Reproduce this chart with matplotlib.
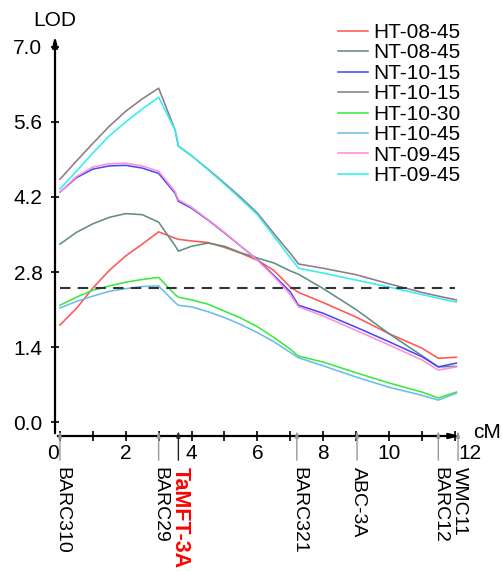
import matplotlib.pyplot as plt
from matplotlib import transforms

plt.rcParams['font.family'] = ['Liberation Sans', 'DejaVu Sans']

# map positions (cM) shared by all traces
cm = [0, 0.5, 1, 1.5, 2, 2.5, 3, 3.5, 3.6, 4, 4.5, 5, 5.5, 6, 6.5, 7, 7.25, 8, 9, 10, 11, 11.5, 12.05]

ht_08_45 = [1.81, 2.12, 2.5, 2.83, 3.1, 3.32, 3.55, 3.43, 3.41, 3.38, 3.35, 3.26, 3.15, 3.02, 2.83, 2.52, 2.42, 2.23, 1.96, 1.65, 1.38, 1.19, 1.21]
nt_08_45 = [3.32, 3.54, 3.7, 3.82, 3.89, 3.87, 3.73, 3.29, 3.19, 3.28, 3.34, 3.28, 3.16, 3.06, 2.97, 2.82, 2.76, 2.49, 2.1, 1.65, 1.24, 1.03, 1.04]
nt_10_15 = [4.29, 4.56, 4.72, 4.78, 4.79, 4.74, 4.64, 4.27, 4.12, 3.99, 3.77, 3.53, 3.28, 3.03, 2.74, 2.43, 2.18, 2.03, 1.77, 1.5, 1.22, 1.03, 1.1]
ht_10_15 = [4.53, 4.87, 5.2, 5.52, 5.8, 6.03, 6.23, 5.45, 5.15, 4.97, 4.72, 4.46, 4.19, 3.9, 3.52, 3.15, 2.95, 2.87, 2.75, 2.58, 2.42, 2.35, 2.28]
ht_10_30 = [2.18, 2.33, 2.46, 2.54, 2.61, 2.66, 2.7, 2.38, 2.33, 2.28, 2.2, 2.07, 1.94, 1.78, 1.58, 1.36, 1.23, 1.12, 0.92, 0.73, 0.56, 0.45, 0.56]
ht_10_45 = [2.13, 2.25, 2.35, 2.44, 2.49, 2.53, 2.54, 2.23, 2.18, 2.15, 2.06, 1.95, 1.82, 1.67, 1.5, 1.3, 1.2, 1.05, 0.84, 0.65, 0.5, 0.41, 0.54]
nt_09_45 = [4.29, 4.58, 4.76, 4.82, 4.83, 4.78, 4.68, 4.3, 4.15, 4.01, 3.78, 3.54, 3.28, 3.02, 2.72, 2.38, 2.15, 1.98, 1.71, 1.44, 1.16, 0.97, 1.03]
ht_09_45 = [4.35, 4.68, 5.02, 5.34, 5.6, 5.84, 6.06, 5.45, 5.15, 4.97, 4.71, 4.44, 4.16, 3.87, 3.47, 3.07, 2.87, 2.78, 2.65, 2.52, 2.38, 2.31, 2.24]

labels = ['HT-08-45', 'NT-08-45', 'NT-10-15', 'HT-10-15', 'HT-10-30', 'HT-10-45', 'NT-09-45', 'HT-09-45']
values = [ht_08_45, nt_08_45, nt_10_15, ht_10_15, ht_10_30, ht_10_45, nt_09_45, ht_09_45]
colors = ['#ff5555', '#5f8f80', '#4848ff', '#8c7a8c', '#3aea3a', '#6cbde6', '#ff8fd0', '#2ef0f0']

marker_names = ['BARC310', 'BARC29', 'TaMFT-3A', 'BARC321', 'ABC-3A', 'BARC12', 'WMC11']
marker_pos = [0, 3.0, 3.6, 7.2, 9.03, 11.5, 12.1]
threshold = 2.5

yticks = [0.0, 1.4, 2.8, 4.2, 5.6, 7.0]
xticks = list(range(0, 13))

fig = plt.figure(figsize=(5.03, 5.71), dpi=100)
ax = fig.add_axes([55 / 503, 135 / 571, 408 / 503, 403 / 571])

for lab, val, col in zip(labels, values, colors):
    ax.plot(cm, val, color=col, lw=1.15, label=lab)

ax.hlines(threshold, 0, 12, colors='#333333', linestyles=(0, (5, 3.5)), lw=1.5)

ax.set_xlim(-0.15, 12.25)
ax.set_ylim(-0.26, 7.26)
for s in ax.spines.values():
    s.set_visible(False)

ax.set_yticks(yticks)
ax.set_yticklabels(['%.1f' % v for v in yticks])
ax.set_xticks(xticks)
ax.set_xticklabels([str(v) if v % 2 == 0 else '' for v in xticks])
ax.tick_params(axis='y', direction='inout', length=6, width=1.2, labelsize=15, pad=6)
ax.tick_params(axis='x', direction='inout', length=7, width=1.2, labelsize=15, pad=2)

# nudge the end labels away from the marker lines
xl = ax.get_xticklabels()
xl[0].set_transform(xl[0].get_transform() + transforms.ScaledTranslation(-0.07, 0, fig.dpi_scale_trans))
xl[12].set_transform(xl[12].get_transform() + transforms.ScaledTranslation(0.15, 0, fig.dpi_scale_trans))

# axes with arrows
ax.annotate('', xy=(0, 1), xytext=(0, 0), xycoords='axes fraction',
            arrowprops=dict(arrowstyle='-|>,head_length=0.6,head_width=0.15', color='black', lw=1.6),
            annotation_clip=False)
ax.annotate('', xy=(1, 0), xytext=(0, 0), xycoords='axes fraction',
            arrowprops=dict(arrowstyle='-|>,head_length=0.6,head_width=0.15', color='black', lw=1.6),
            annotation_clip=False)

# marker positions below the axis
trans = ax.get_xaxis_transform()
for name, pos in zip(marker_names, marker_pos):
    if name == 'TaMFT-3A':
        lc, tc, fw, fs = '#222222', 'red', 'bold', 15.5
    else:
        lc, tc, fw, fs = '#999999', 'black', 'normal', 14
    ax.annotate('', xy=(pos, 0.02), xytext=(pos, -0.067), xycoords=trans,
                arrowprops=dict(arrowstyle='-|>,head_length=0.35,head_width=0.1', color=lc, lw=1),
                annotation_clip=False)
    ax.text(pos + 0.05, -0.077, name, transform=trans, rotation=270, ha='center', va='top',
            fontsize=fs, color=tc, fontweight=fw, clip_on=False)

fig.text(55 / 503, 1 - 20 / 571, 'LOD', fontsize=15, ha='center', va='center')
fig.text(487 / 503, 1 - 432 / 571, 'cM', fontsize=15, ha='center', va='center')

fig.legend(loc='upper left', bbox_to_anchor=(338 / 503, 1 - 23 / 571), bbox_transform=fig.transFigure,
           frameon=False, fontsize=15, handlelength=1.45, handletextpad=0.25, labelspacing=0.07,
           borderpad=0, borderaxespad=0)

fig.savefig('out.png', dpi=100)
